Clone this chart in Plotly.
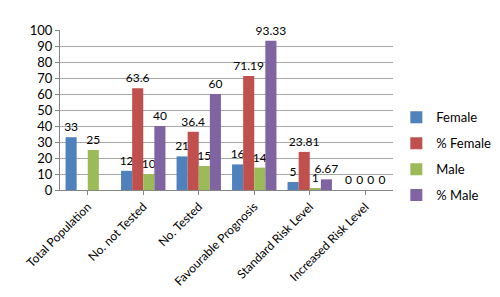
import plotly.graph_objects as go

categories = ["Total Population", "No. not Tested", "No. Tested",
              "Favourable Prognosis", "Standard Risk Level", "Increased Risk Level"]
female = [33, 12, 21, 16, 5, 0]
pct_female = [None, 63.6, 36.4, 71.19, 23.81, 0]
male = [25, 10, 15, 14, 1, 0]
pct_male = [None, 40, 60, 93.33, 6.67, 0]
y_ticks = list(range(0, 101, 10))

series = [
    ("Female", female, "#4F81BD"),
    ("% Female", pct_female, "#C0504D"),
    ("Male", male, "#9BBB59"),
    ("% Male", pct_male, "#8064A2"),
]

FONT = "Lato, Open Sans, sans-serif"

fig = go.Figure()
for name, vals, color in series:
    fig.add_trace(go.Bar(
        x=categories, y=vals, name=name, legendgroup=name,
        marker=dict(color=color, line=dict(width=0)),
        text=[("" if v is None else f"{v:g}") for v in vals],
        textposition="outside", cliponaxis=False, constraintext="none",
        textfont=dict(size=12, color="#000000", family=FONT),
    ))

fig.update_layout(
    width=500, height=297,
    margin=dict(l=52, r=115, t=22, b=115),
    paper_bgcolor="white", plot_bgcolor="white",
    barmode="group", bargap=0.2, bargroupgap=0.0,
    font=dict(family=FONT, size=13, color="#000000"),
    showlegend=True,
    legend=dict(x=1.01, y=0.21, xanchor="left", yanchor="middle",
                font=dict(size=13), tracegroupgap=6,
                itemwidth=30, bgcolor="rgba(0,0,0,0)"),
    uniformtext=dict(mode=False),
)
fig.update_xaxes(
    tickangle=-45, tickfont=dict(size=12),
    showline=True, linecolor="#868686", linewidth=1,
    ticks="outside", ticklen=4, tickcolor="#868686",
    showgrid=False,
)
fig.update_yaxes(
    range=[0, 100], tickvals=y_ticks, ticktext=[str(t) for t in y_ticks],
    tickfont=dict(size=13),
    showline=True, linecolor="#868686", linewidth=1,
    ticks="outside", ticklen=4, tickcolor="#868686",
    showgrid=True, gridcolor="#A6A6A6", gridwidth=1,
    zeroline=False,
)
fig.write_html("out.html")
